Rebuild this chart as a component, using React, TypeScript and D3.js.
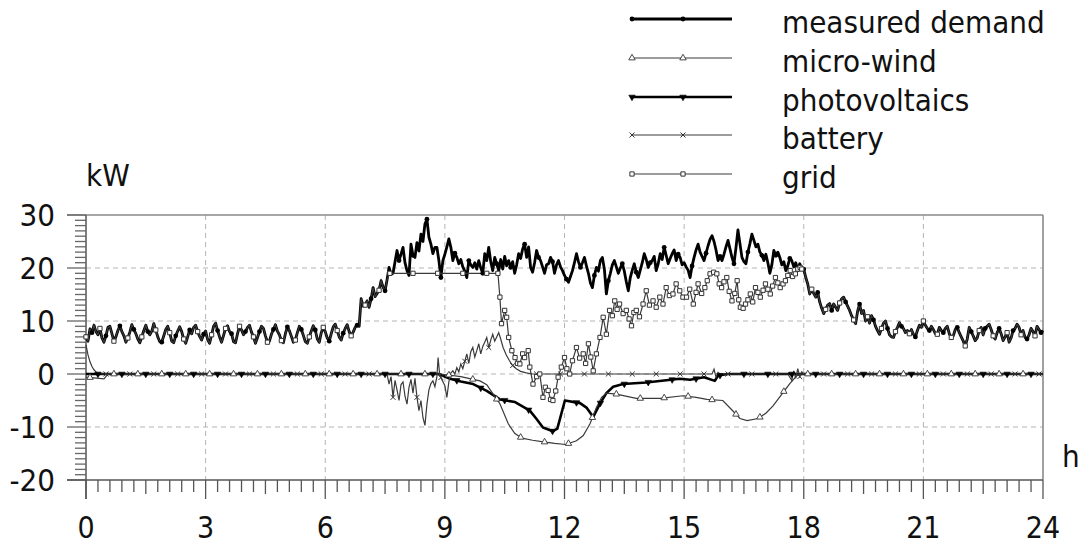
import React from 'react';
import * as d3 from 'd3';

const HOUR_TICKS = [0, 3, 6, 9, 12, 15, 18, 21, 24];
const KW_TICKS = [30, 20, 10, 0, -10, -20];
const LEGEND_LABELS = ['measured demand', 'micro-wind', 'photovoltaics', 'battery', 'grid'];
const DEMAND_STEP_H = 0.05;

// measured demand, one value every 0.05 h (rows = hours 0..23)
const demand: number[] = [
  7.0, 6.2, 8.5, 7.8, 9.2, 8.0, 7.4, 8.6, 6.8, 6.0, 7.2, 8.8, 9.0, 7.6, 6.2, 7.0, 8.2, 9.1, 8.0, 7.2,
  6.0, 6.8, 7.9, 9.3, 8.4, 7.6, 6.6, 5.9, 7.0, 8.2, 9.2, 8.0, 7.4, 8.1, 9.5, 8.3, 7.0, 6.1, 6.0, 7.2,
  8.4, 9.0, 7.8, 6.2, 5.9, 7.2, 8.1, 8.9, 8.0, 6.6, 5.8, 7.0, 8.3, 7.6, 8.8, 9.2, 8.0, 7.1, 6.4, 7.5,
  8.1, 6.5, 5.8, 7.4, 9.0, 9.6, 8.2, 7.0, 6.0, 7.3, 8.6, 9.1, 8.0, 7.6, 6.1, 5.9, 7.6, 9.0, 8.3, 7.4,
  8.0, 8.8, 9.2, 7.9, 7.0, 5.8, 6.9, 8.0, 9.0, 8.6, 7.2, 6.0, 6.2, 7.5, 8.4, 9.3, 8.1, 7.4, 6.3, 5.9,
  7.6, 8.9, 8.2, 7.1, 6.0, 6.4, 7.8, 9.0, 8.4, 7.3, 6.1, 5.8, 7.0, 8.1, 9.1, 8.3, 6.6, 6.0, 7.8, 8.8,
  8.0, 6.8, 6.2, 7.6, 8.9, 9.4, 8.2, 7.0, 6.4, 7.7, 8.6, 9.3, 8.0, 7.2, 7.9, 8.8, 9.2, 9.0, 14.2, 12.8,
  13.0, 13.8, 12.6, 14.2, 16.3, 14.6, 15.2, 15.8, 17.6, 16.4, 15.7, 17.8, 20.1, 18.8, 19.0, 21.2, 23.3, 21.4, 22.6, 23.9,
  21.0, 19.5, 18.6, 24.5, 22.4, 22.0, 24.8, 23.2, 26.4, 25.0, 28.3, 29.2, 25.8, 24.5, 22.7, 23.9, 23.9, 21.4, 18.2, 21.4,
  22.6, 24.0, 25.5, 23.9, 21.4, 22.8, 22.0, 20.8, 21.6, 20.2, 19.4, 18.2, 21.4, 20.6, 20.1, 21.0, 19.8, 21.4, 20.0, 19.0,
  22.7, 21.4, 23.9, 21.2, 19.5, 22.0, 20.8, 19.5, 21.6, 19.8, 22.2, 20.4, 21.4, 20.1, 21.2, 19.0, 20.6, 22.7, 21.8, 23.6,
  24.5, 22.0, 24.0, 20.1, 19.2, 21.0, 23.3, 22.0, 21.4, 20.2, 19.0, 20.6, 20.8, 22.0, 21.2, 19.0, 20.6, 21.4, 20.2, 19.5,
  18.6, 17.9, 17.3, 18.4, 19.5, 21.0, 22.7, 21.2, 20.1, 21.0, 22.0, 20.4, 19.0, 17.2, 16.3, 18.6, 20.1, 19.4, 21.4, 22.0,
  19.8, 15.1, 17.6, 19.0, 20.6, 21.4, 20.2, 19.0, 20.0, 20.8, 19.4, 17.4, 15.7, 18.2, 19.6, 20.8, 19.2, 18.2, 19.6, 21.0,
  22.7, 21.6, 20.1, 21.0, 21.4, 22.2, 19.5, 20.8, 22.7, 21.6, 23.9, 22.4, 20.8, 21.8, 22.7, 23.4, 21.4, 22.6, 22.0, 20.6,
  21.0, 20.2, 19.6, 18.2, 20.4, 22.0, 23.4, 24.5, 23.0, 22.2, 21.4, 22.8, 24.2, 25.4, 26.1, 25.0, 23.4, 21.4, 22.2, 21.4,
  22.6, 24.0, 25.2, 23.6, 22.0, 20.8, 23.8, 27.2, 24.6, 22.0, 21.2, 20.8, 23.0, 24.6, 26.4, 25.2, 24.0, 24.5, 23.0, 22.4,
  21.4, 22.6, 21.0, 19.0, 20.6, 23.3, 22.4, 23.0, 22.0, 20.6, 21.2, 19.5, 20.4, 21.8, 21.4, 20.2, 21.0, 19.5, 20.8, 19.8,
  19.8, 18.2, 17.0, 15.1, 16.0, 15.2, 14.5, 15.4, 13.6, 12.4, 11.4, 12.2, 13.0, 13.3, 12.0, 13.2, 12.6, 12.0, 13.4, 14.2,
  14.5, 13.6, 12.8, 12.0, 11.0, 10.2, 9.5, 11.8, 13.2, 11.4, 12.0, 10.0, 10.8, 9.6, 11.0, 10.2, 9.0, 8.2, 7.5, 8.6,
  9.6, 10.0, 8.6, 7.4, 7.0, 6.9, 8.0, 8.8, 9.7, 9.0, 8.6, 7.8, 8.2, 7.6, 8.4, 7.5, 7.0, 8.2, 9.2, 8.8,
  10.0, 9.2, 8.6, 8.2, 9.0, 8.4, 7.6, 7.5, 8.8, 8.2, 7.8, 8.6, 9.0, 7.6, 6.9, 7.2, 8.4, 8.8, 7.8, 7.0,
  6.2, 5.3, 6.6, 8.8, 8.0, 7.2, 6.3, 6.8, 8.2, 8.8, 7.4, 8.6, 9.0, 9.4, 8.4, 7.2, 6.6, 7.8, 8.6, 7.6,
  6.3, 7.0, 7.8, 6.0, 6.8, 8.2, 8.6, 9.4, 8.8, 7.4, 8.2, 6.9, 6.6, 7.4, 8.6, 8.0, 7.2, 9.0, 8.4, 7.8,
  8.2,
];

// grid import at night equals demand; daytime values [hour, kW]
const GRID_DAY_START_H = 7.6;
const GRID_DAY_END_H = 18.0;
const gridDay: [number, number][] = [
  [7.62, 19.0], [8.2, 19.0], [8.82, 19.0], [9.45, 19.0], [10.05, 19.0], [10.33, 19.0],
  [10.38, 14.5], [10.42, 9.5], [10.5, 12.0], [10.55, 10.7], [10.6, 6.9], [10.68, 4.4], [10.76, 3.1],
  [10.82, 2.0], [10.88, 1.9], [10.95, 3.8], [11.0, 3.1], [11.09, 4.4], [11.13, 1.3], [11.21, -1.9],
  [11.3, -0.5], [11.38, 0.0], [11.46, -4.4], [11.52, -2.5], [11.59, -3.1], [11.65, -4.8], [11.71, -5.0],
  [11.78, -3.2], [11.84, -0.6], [11.92, 1.3], [12.0, 3.1], [12.06, 1.0], [12.13, 0.0], [12.2, 2.5],
  [12.3, 5.0], [12.38, 3.0], [12.47, 3.8], [12.53, 2.0], [12.6, 5.7], [12.66, 3.2], [12.72, 0.6],
  [12.8, 3.8], [12.89, 6.9], [12.97, 10.7], [13.05, 7.5], [13.13, 12.0], [13.2, 11.0], [13.26, 13.8],
  [13.32, 12.2], [13.38, 13.2], [13.47, 11.4], [13.55, 12.0], [13.62, 10.4], [13.68, 9.1], [13.74, 11.6],
  [13.8, 12.0], [13.88, 10.8], [13.97, 13.2], [14.05, 15.7], [14.13, 13.0], [14.22, 13.8], [14.3, 12.6],
  [14.39, 14.5], [14.47, 13.2], [14.55, 16.3], [14.63, 14.8], [14.72, 15.1], [14.8, 17.0], [14.89, 15.7],
  [14.97, 14.5], [15.06, 14.5], [15.14, 16.0], [15.23, 13.2], [15.3, 15.4], [15.35, 17.0], [15.44, 15.2],
  [15.52, 16.3], [15.58, 17.6], [15.65, 18.9], [15.74, 19.2], [15.82, 18.9], [15.88, 17.0], [15.94, 16.3],
  [16.0, 17.4], [16.07, 18.2], [16.13, 15.6], [16.2, 13.8], [16.27, 15.2], [16.33, 17.6], [16.37, 14.0],
  [16.41, 12.6], [16.48, 12.4], [16.54, 13.2], [16.6, 14.0], [16.66, 15.1], [16.72, 13.6], [16.79, 16.3],
  [16.85, 15.4], [16.91, 14.5], [16.98, 15.8], [17.04, 17.0], [17.1, 16.0], [17.16, 15.1], [17.22, 16.6],
  [17.29, 18.2], [17.35, 17.2], [17.41, 16.3], [17.48, 17.0], [17.54, 17.6], [17.6, 18.6], [17.66, 19.5],
  [17.72, 18.4], [17.79, 18.9], [17.85, 19.8], [17.91, 20.1], [17.95, 19.8],
];

const microWind: [number, number][] = [
  [0, -0.6], [0.45, -0.9], [0.55, 0], [8.9, 0], [9.4, -0.5], [9.88, -1.3], [10.05, -2.0], [10.21, -3.8],
  [10.38, -5.6], [10.59, -9.4], [10.75, -11.2], [10.93, -12.1], [11.2, -12.5], [11.47, -12.8], [11.75, -13.1],
  [12.03, -13.3], [12.3, -12.6], [12.47, -11.6], [12.64, -9.4], [12.8, -6.3], [12.93, -4.4], [13.05, -3.6],
  [13.3, -3.8], [13.8, -4.6], [14.4, -4.6], [14.97, -4.1], [15.3, -4.4], [15.57, -4.8], [15.97, -5.0],
  [16.2, -6.8], [16.4, -8.4], [16.58, -8.8], [16.85, -8.4], [17.05, -7.4], [17.23, -6.0], [17.48, -3.5],
  [17.65, -1.8], [17.83, -0.3], [17.95, 0], [24, 0],
];

const photovoltaics: [number, number][] = [
  [0, 0], [8.85, 0], [9.13, -0.9], [9.4, -1.4], [9.71, -1.9], [10.05, -3.2], [10.38, -4.8], [10.76, -5.3],
  [11.13, -6.9], [11.3, -8.5], [11.46, -10.1], [11.71, -10.8], [11.82, -10.3], [12.01, -5.0], [12.39, -5.5],
  [12.56, -6.4], [12.72, -8.1], [12.89, -5.6], [13.05, -3.6], [13.22, -2.4], [13.47, -1.9], [14.05, -1.6],
  [14.89, -0.9], [15.15, -1.1], [15.5, -0.6], [15.77, -1.3], [15.85, -0.3], [16.1, 0], [24, 0],
];

const battery: [number, number][] = [
  [0, 5.5], [0.05, 3.6], [0.1, 2.3], [0.15, 1.4], [0.2, 0.8], [0.25, 0.4], [0.3, 0.15], [0.4, 0], [7.55, 0],
  [7.6, -1.9], [7.65, -0.5], [7.7, -4.4], [7.75, -1.2], [7.8, -3.0], [7.85, -5.0], [7.9, -2.0], [7.95, -1.5],
  [8.0, -4.2], [8.05, -5.7], [8.1, -2.5], [8.15, -1.0], [8.2, -3.6], [8.25, -0.8], [8.3, -4.4], [8.35, -6.9],
  [8.4, -5.0], [8.45, -8.2], [8.5, -9.7], [8.55, -5.7], [8.6, -3.0], [8.65, -1.8], [8.7, -1.3], [8.75, -2.4],
  [8.8, -0.5], [8.83, 3.1], [8.87, -0.2], [8.92, -1.0], [9.0, -2.2], [9.05, -4.4], [9.1, -1.5], [9.15, 0.2],
  [9.2, 0.6], [9.25, 0.0], [9.3, 1.2], [9.35, 0.4], [9.4, 1.9], [9.45, 1.0], [9.5, 2.4], [9.55, 3.8],
  [9.6, 2.0], [9.65, 4.2], [9.7, 5.0], [9.75, 3.2], [9.8, 4.4], [9.85, 5.7], [9.9, 3.8], [9.95, 5.2],
  [10.0, 6.0], [10.05, 6.9], [10.1, 5.0], [10.15, 6.4], [10.2, 7.5], [10.25, 6.2], [10.3, 7.0], [10.35, 7.8],
  [10.4, 6.6], [10.46, 5.0], [10.54, 3.6], [10.62, 2.5], [10.7, 1.6], [10.79, 1.0], [10.9, 0.5], [11.04, 0.2],
  [11.2, 0], [15.7, 0], [15.75, 0.9], [15.8, -0.6], [15.85, 0.3], [15.9, 0], [17.6, 0], [17.7, -1.2],
  [17.75, 0.6], [17.8, -0.8], [17.85, 1.0], [17.9, -0.5], [17.95, 0.4], [18.0, 0], [24, 0],
];

const FONT = "'DejaVu Sans Condensed', 'DejaVu Sans', sans-serif";

export default function App() {
  const W = 1086;
  const H = 547;
  const x = d3.scaleLinear().domain([0, 24]).range([86, 1043]);
  const y = d3.scaleLinear().domain([-20, 30]).range([480, 215]);
  const line = d3.line<[number, number]>().x((d) => x(d[0])).y((d) => y(d[1]));

  const demandPts: [number, number][] = demand.map((v, i) => [+(i * DEMAND_STEP_H).toFixed(2), v]);
  const gridPts: [number, number][] = [
    ...demandPts.filter((d) => d[0] < GRID_DAY_START_H),
    ...gridDay,
    ...demandPts.filter((d) => d[0] >= GRID_DAY_END_H),
  ];

  const sampleAt = (series: [number, number][], hours: number[]) => {
    const s = d3.scaleLinear().domain(series.map((d) => d[0])).range(series.map((d) => d[1]));
    return hours.map((h) => [h, s(h)] as [number, number]);
  };

  const circ = d3.symbol().type(d3.symbolCircle).size(18)() as string;
  const tri = d3.symbol().type(d3.symbolTriangle).size(18)() as string;
  const cross = d3.symbol().type(d3.symbolX).size(18)() as string;
  const sq = d3.symbol().type(d3.symbolSquare).size(18)() as string;

  const mk = {
    demand: (key: string, px: number, py: number) => (
      <path key={key} d={circ} transform={`translate(${px},${py})`} fill="#000" stroke="none" />
    ),
    wind: (key: string, px: number, py: number) => (
      <path key={key} d={tri} transform={`translate(${px},${py})`} fill="#fff" stroke="#333" strokeWidth={0.9} />
    ),
    pv: (key: string, px: number, py: number) => (
      <path key={key} d={tri} transform={`translate(${px},${py}) rotate(180)`} fill="#000" stroke="#000" strokeWidth={0.6} />
    ),
    battery: (key: string, px: number, py: number) => (
      <path key={key} d={cross} transform={`translate(${px},${py})`} fill="none" stroke="#333" strokeWidth={1} />
    ),
    grid: (key: string, px: number, py: number) => (
      <path key={key} d={sq} transform={`translate(${px},${py})`} fill="#fff" stroke="#333" strokeWidth={1} />
    ),
  };

  const minorX = d3.range(0, 24.0001, 0.3).map((v) => +v.toFixed(2));
  const minorY = d3.range(-20, 30.0001, 1);

  const thinColor = '#3a3a3a';
  const legendRows = [19, 58, 97, 135, 174];
  const legendStyles = [
    { w: 2.8, c: '#000', m: mk.demand },
    { w: 1.2, c: thinColor, m: mk.wind },
    { w: 2.6, c: '#000', m: mk.pv },
    { w: 1.2, c: thinColor, m: mk.battery },
    { w: 1.2, c: thinColor, m: mk.grid },
  ];

  const windMarks = sampleAt(microWind, d3.range(0.1, 24, 0.6));
  const pvMarks = sampleAt(photovoltaics, d3.range(0.3, 24, 0.6));
  const batMarks = sampleAt(battery, d3.range(0.5, 24, 0.6));

  return (
    <svg width={W} height={H} style={{ position: 'absolute', left: 0, top: 0, background: '#fff' }} fontFamily={FONT}>
      <rect x={0} y={0} width={W} height={H} fill="#fff" />
      {/* gridlines */}
      {HOUR_TICKS.filter((h) => h > 0 && h < 24).map((h) => (
        <line key={'gx' + h} x1={x(h)} x2={x(h)} y1={215} y2={480} stroke="#b4b4b4" strokeDasharray="5,4" strokeWidth={1} />
      ))}
      {KW_TICKS.filter((v) => v > -20 && v < 30).map((v) => (
        <line key={'gy' + v} x1={86} x2={1043} y1={y(v)} y2={y(v)} stroke="#b4b4b4" strokeDasharray="5,4" strokeWidth={1} />
      ))}
      {/* frame */}
      <line x1={67} x2={1043} y1={y(30)} y2={y(30)} stroke="#8a8a8a" strokeWidth={1.6} />
      <line x1={1043} x2={1043} y1={y(30)} y2={y(-20)} stroke="#8a8a8a" strokeWidth={1.6} />
      {/* y axis */}
      <line x1={86} x2={86} y1={y(30)} y2={499} stroke="#555" strokeWidth={1.5} />
      {minorY.map((v) => (
        <line key={'ty' + v} x1={v % 10 === 0 ? 67 : 75} x2={86} y1={y(v)} y2={y(v)} stroke="#666" strokeWidth={1.3} />
      ))}
      {/* x axis */}
      <line x1={67} x2={1043} y1={480} y2={480} stroke="#555" strokeWidth={1.5} />
      {minorX.map((h) => {
        const major = Math.abs(h / 3 - Math.round(h / 3)) < 1e-6;
        const mid = Math.abs(h / 1.5 - Math.round(h / 1.5)) < 1e-6;
        return (
          <line key={'tx' + h} x1={x(h)} x2={x(h)} y1={480} y2={major ? 499 : mid ? 494 : 492} stroke="#555" strokeWidth={1.3} />
        );
      })}
      {/* tick labels */}
      {KW_TICKS.map((v) => (
        <text key={'ly' + v} x={55} y={y(v)} dy="0.36em" textAnchor="end" fontSize={31} fill="#111">
          {v}
        </text>
      ))}
      {HOUR_TICKS.map((h) => (
        <text key={'lx' + h} x={x(h)} y={538} textAnchor="middle" fontSize={30} fill="#111">
          {h}
        </text>
      ))}
      <text x={86} y={186} fontSize={31} fill="#111">kW</text>
      <text x={1062} y={467} fontSize={31} fill="#111">h</text>

      {/* series */}
      <path d={line(photovoltaics) as string} fill="none" stroke="#000" strokeWidth={2.6} strokeLinejoin="round" />
      <path d={line(microWind) as string} fill="none" stroke={thinColor} strokeWidth={1.2} />
      <path d={line(battery) as string} fill="none" stroke={thinColor} strokeWidth={1.2} />
      <path d={line(demandPts) as string} fill="none" stroke="#000" strokeWidth={2.8} strokeLinejoin="round" />
      <path d={line(gridPts) as string} fill="none" stroke={thinColor} strokeWidth={1.2} />

      {pvMarks.map((d, i) => mk.pv('mp' + i, x(d[0]), y(d[1])))}
      {windMarks.map((d, i) => mk.wind('mw' + i, x(d[0]), y(d[1])))}
      {batMarks.map((d, i) => mk.battery('mb' + i, x(d[0]), y(d[1])))}
      {demandPts.filter((_, i) => i % 7 === 3).map((d, i) => mk.demand('md' + i, x(d[0]), y(d[1])))}
      {demandPts
        .filter((d, i) => i % 7 === 0 && (d[0] < GRID_DAY_START_H || d[0] >= GRID_DAY_END_H))
        .map((d, i) => mk.grid('mgn' + i, x(d[0]), y(d[1])))}
      {gridDay.map((d, i) => mk.grid('mgd' + i, x(d[0]), y(d[1])))}

      {/* legend */}
      {LEGEND_LABELS.map((lab, i) => {
        const ly = legendRows[i];
        const st = legendStyles[i];
        return (
          <g key={'lg' + i}>
            <line x1={632} x2={732} y1={ly} y2={ly} stroke={st.c} strokeWidth={st.w} />
            {st.m('lm1' + i, 632, ly)}
            {st.m('lm2' + i, 683, ly)}
            <text x={782} y={ly + 14} fontSize={31} fill="#111">
              {lab}
            </text>
          </g>
        );
      })}
    </svg>
  );
}
